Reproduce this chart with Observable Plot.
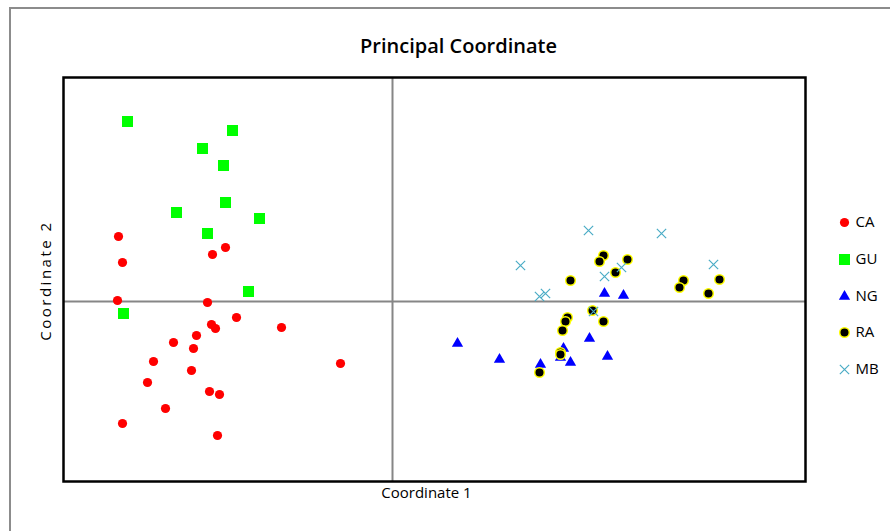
<!DOCTYPE html>
<html>
<head>
<meta charset="utf-8">
<script src="https://cdn.jsdelivr.net/npm/d3@7"></script>
<script src="https://cdn.jsdelivr.net/npm/@observablehq/plot@0.6"></script>
<style>
  html, body { margin: 0; padding: 0; background: #fff; }
  #wrap { position: relative; width: 890px; height: 531px; overflow: hidden; }
  #border { position: absolute; left: 9px; top: 7px; right: -10px; bottom: -10px;
            border-top: 2px solid #8c8c8c; border-left: 2px solid #8c8c8c; }
  #wrap svg { position: absolute; left: 0; top: 0; }
</style>
</head>
<body>
<div id="wrap"><div id="border"></div></div>
<script>
// Series values [Coordinate 1, Coordinate 2]
const CA = [[-0.274,0.065],[-0.270,0.039],[-0.180,0.047],[-0.167,0.054],[-0.275,0.001],[-0.185,-0.001],
  [-0.156,-0.016],[-0.181,-0.023],[-0.177,-0.027],[-0.111,-0.026],[-0.196,-0.034],[-0.219,-0.041],
  [-0.199,-0.047],[-0.239,-0.060],[-0.052,-0.062],[-0.201,-0.069],[-0.245,-0.081],[-0.183,-0.090],
  [-0.173,-0.093],[-0.227,-0.107],[-0.270,-0.122],[-0.175,-0.134]];
const GU = [[-0.265,0.180],[-0.160,0.171],[-0.190,0.153],[-0.169,0.136],[-0.167,0.099],[-0.216,0.089],
  [-0.133,0.083],[-0.185,0.068],[-0.144,0.010],[-0.269,-0.012]];
const NG = [[0.065,-0.042],[0.107,-0.058],[0.148,-0.063],[0.171,-0.047],[0.168,-0.056],[0.178,-0.061],
  [0.197,-0.037],[0.215,-0.055],[0.212,0.008],[0.231,0.006]];
const RA = [[0.211,0.046],[0.207,0.040],[0.235,0.042],[0.223,0.029],[0.178,0.021],[0.291,0.021],
  [0.287,0.014],[0.327,0.022],[0.316,0.008],[0.200,-0.009],[0.175,-0.016],[0.173,-0.020],
  [0.211,-0.020],[0.170,-0.029],[0.168,-0.051],[0.168,-0.053],[0.147,-0.071]];
const MB = [[0.196,0.071],[0.269,0.068],[0.128,0.036],[0.321,0.037],[0.229,0.034],[0.212,0.025],
  [0.147,0.005],[0.153,0.008],[0.201,-0.010]];
const seriesNames = ["CA","GU","NG","RA","MB"];
const xDomain = [-0.329, 0.413];
const yDomain = [-0.180, 0.224];
const title = "Principal Coordinate";
const xLabel = "Coordinate 1";
const yLabel = "Coordinate 2";

const styles = {
  CA: {symbol: "circle", r: 4.6, fill: "#ff0000"},
  GU: {symbol: "square", r: 6.2, fill: "#00ff00"},
  NG: {symbol: "triangle", r: 4.2, fill: "#0000ff"},
  RA: {symbol: "circle", r: 4.8, fill: "#000000", stroke: "#ffff00", strokeWidth: 1.5},
  MB: {symbol: "times", r: 4.3, fill: "none", stroke: "#4bacc6", strokeWidth: 1.2}
};
const dataBy = {CA, GU, NG, RA, MB};
const legendDy = [-57, -20, 17, 53, 90];

const marks = [
  Plot.ruleX([0], {stroke: "#868686", strokeWidth: 2}),
  Plot.ruleY([0], {stroke: "#868686", strokeWidth: 2}),
  Plot.frame({stroke: "#000", strokeWidth: 2.5})
];
for (const name of seriesNames) {
  marks.push(Plot.dot(dataBy[name], {x: d => d[0], y: d => d[1], ...styles[name]}));
}
seriesNames.forEach((name, i) => {
  marks.push(Plot.dot([name], {frameAnchor: "right", dx: 39, dy: legendDy[i], ...styles[name]}));
  marks.push(Plot.text([name], {text: d => d, frameAnchor: "right", dx: 50, dy: legendDy[i],
    textAnchor: "start", fontSize: 15, fill: "#000"}));
});
marks.push(Plot.text([title], {text: d => d, frameAnchor: "top", dx: 24, dy: -39,
  fontSize: 20, fontWeight: 600, fill: "#000"}));
marks.push(Plot.text([xLabel], {text: d => d, frameAnchor: "bottom", dx: -8, dy: 16,
  fontSize: 15, fill: "#000"}));
marks.push(Plot.text([yLabel], {text: d => d, frameAnchor: "left", dx: -17, dy: 1, rotate: -90,
  textAnchor: "middle", fontSize: 15, fill: "#000"}));

const chart = Plot.plot({
  width: 890, height: 531,
  marginTop: 77, marginRight: 85, marginBottom: 50, marginLeft: 63,
  x: {domain: xDomain, axis: null},
  y: {domain: yDomain, axis: null},
  style: {fontFamily: "'Open Sans', sans-serif", background: "transparent", overflow: "visible"},
  marks
});
chart.querySelectorAll("text").forEach(t => {
  if (t.textContent === yLabel) t.setAttribute("letter-spacing", "2.5");
});
document.getElementById("wrap").appendChild(chart);
</script>
</body>
</html>
